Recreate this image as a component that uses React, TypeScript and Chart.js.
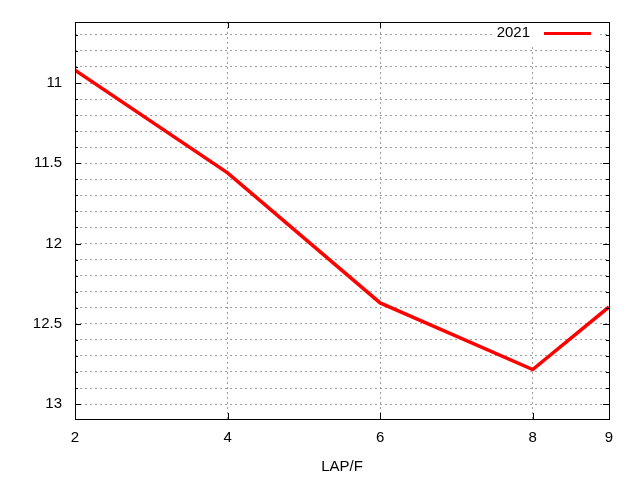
import React, { useEffect, useRef } from 'react';
import { Chart, registerables } from 'chart.js';

Chart.register(...registerables);

// data
const laps = [2, 4, 6, 8, 9];
const values2021 = [10.92, 11.56, 12.37, 12.785, 12.395];
const seriesName = '2021';
const xTickValues = [2, 4, 6, 8, 9];
const yMajorTicks = [11, 11.5, 12, 12.5, 13];
const yMinorTicks = [10.7, 10.8, 10.9, 11.1, 11.2, 11.3, 11.4, 11.6, 11.7, 11.8, 11.9, 12.1, 12.2, 12.3, 12.4, 12.6, 12.7, 12.8, 12.9];

const FONT = '"Liberation Sans", Arial, sans-serif';

const isMajor = (v: number) => yMajorTicks.some((m) => Math.abs(m - v) < 1e-6);

// gnuplot-like frame, inward ticks and the boxed legend
const framePlugin = {
  id: 'frame',
  afterDatasetsDraw(chart: any) {
    const { ctx, chartArea } = chart;
    const { left, right, top, bottom } = chartArea;
    const xs = chart.scales.x;
    const ys = chart.scales.y;
    ctx.save();
    ctx.strokeStyle = '#000';
    ctx.lineWidth = 1;
    ctx.setLineDash([]);
    ctx.beginPath();
    // y ticks on both sides
    [...yMajorTicks, ...yMinorTicks].forEach((v) => {
      const y = Math.round(ys.getPixelForValue(v)) + 0.5;
      const len = isMajor(v) ? 6 : 3;
      ctx.moveTo(left, y);
      ctx.lineTo(left + len, y);
      ctx.moveTo(right, y);
      ctx.lineTo(right - len, y);
    });
    // x ticks bottom and top
    xTickValues.forEach((v) => {
      const x = Math.round(xs.getPixelForValue(v)) + 0.5;
      ctx.moveTo(x, bottom);
      ctx.lineTo(x, bottom - 6);
      ctx.moveTo(x, top);
      ctx.lineTo(x, top + 6);
    });
    ctx.stroke();

    // legend box
    ctx.fillStyle = '#fff';
    ctx.fillRect(494, top + 1, 103, 22);
    ctx.font = '15px ' + FONT;
    ctx.fillStyle = '#000';
    ctx.textAlign = 'right';
    ctx.textBaseline = 'middle';
    ctx.fillText(seriesName, 530, 33);
    ctx.strokeStyle = '#ff0000';
    ctx.lineWidth = 3;
    ctx.beginPath();
    ctx.moveTo(544, 33.5);
    ctx.lineTo(591, 33.5);
    ctx.stroke();

    // frame
    ctx.strokeStyle = '#000';
    ctx.lineWidth = 1;
    ctx.strokeRect(Math.round(left) + 0.5, Math.round(top) + 0.5, Math.round(right - left), Math.round(bottom - top));
    ctx.restore();
  },
};

export default function App() {
  const canvasRef = useRef<HTMLCanvasElement>(null);

  useEffect(() => {
    document.body.style.margin = '0';
    const ctx = canvasRef.current?.getContext('2d');
    if (!ctx) return;

    const chart = new Chart(ctx, {
      type: 'line',
      data: {
        datasets: [
          {
            label: seriesName,
            data: laps.map((x, i) => ({ x, y: values2021[i] })),
            borderColor: '#ff0000',
            borderWidth: 3.5,
            pointRadius: 0,
            fill: false,
            tension: 0,
          },
        ],
      },
      options: {
        animation: false,
        responsive: false,
        layout: { padding: { top: 19, right: 31, left: 0, bottom: 0 } },
        plugins: { legend: { display: false }, tooltip: { enabled: false } },
        scales: {
          x: {
            type: 'linear',
            min: 2,
            max: 9,
            afterBuildTicks: (scale: any) => {
              scale.ticks = xTickValues.map((value) => ({ value }));
            },
            afterFit: (scale: any) => {
              scale.height = 61;
            },
            border: { display: false, dash: [2, 3] },
            grid: {
              color: (c: any) => (c.tick && (c.tick.value === 2 || c.tick.value === 9) ? 'rgba(0,0,0,0)' : '#a0a0a0'),
              lineWidth: 1,
              drawTicks: false,
            },
            ticks: {
              color: '#000',
              font: { family: FONT, size: 15 },
              padding: 10,
              maxRotation: 0,
              autoSkip: false,
            },
            title: {
              display: true,
              text: 'LAP/F',
              color: '#000',
              font: { family: FONT, size: 15 },
              padding: { top: 4, bottom: 4 },
            },
          },
          y: {
            type: 'linear',
            reverse: true,
            min: 10.62,
            max: 13.093,
            afterBuildTicks: (scale: any) => {
              scale.ticks = [...yMinorTicks, ...yMajorTicks]
                .sort((a, b) => a - b)
                .map((value) => ({ value }));
            },
            afterFit: (scale: any) => {
              scale.width = 75;
            },
            border: { display: false, dash: [2, 3] },
            grid: {
              color: '#a0a0a0',
              lineWidth: 1,
              drawTicks: false,
            },
            ticks: {
              color: '#000',
              font: { family: FONT, size: 15 },
              padding: 13,
              autoSkip: false,
              callback: (v: any) => (isMajor(Number(v)) ? String(Number(v)) : ''),
            },
          },
        },
      },
      plugins: [framePlugin],
    } as any);

    return () => chart.destroy();
  }, []);

  return (
    <div style={{ position: 'relative', width: 640, height: 480 }}>
      <canvas ref={canvasRef} width={640} height={480} />
    </div>
  );
}
